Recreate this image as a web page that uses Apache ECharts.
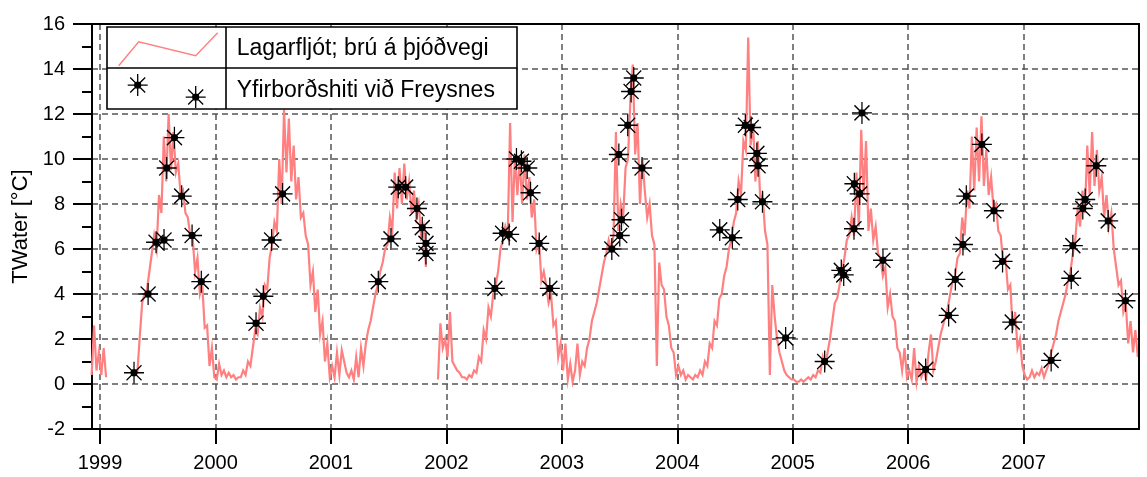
<!DOCTYPE html>
<html><head><meta charset="utf-8">
<script src="https://cdn.jsdelivr.net/npm/echarts@6/dist/echarts.min.js"></script>
<style>html,body{margin:0;padding:0;background:#fff}#c{width:1147px;height:477px}</style>
</head><body><div id="c"></div>
<script>
// ---------- data ----------
const yearTicks = [1999, 2000, 2001, 2002, 2003, 2004, 2005, 2006, 2007];
const seriesLagar = 'Lagarfljót; brú á þjóðvegi';
const seriesFrey = 'Yfirborðshiti við Freysnes';

// Lagarfljót water temperature, 48 readings per year (quarter-month steps), null = gap
const t1998tail = [0.4, 2.6, 0.6, 1.4]; // last four quarter-months of 1998
const t1999 = [0.4,1.6,0.3,null,null,null,null,null,null,null,null,null,null,null,null,0.5,2.1,3.6,4.0,4.2,5.0,5.8,6.6,6.0,8.4,7.6,11.0,9.0,12.0,9.5,11.2,9.4,9.8,8.4,8.6,7.6,7.4,6.6,6.5,5.0,5.6,4.0,4.4,2.5,2.6,0.8,1.6,0.3];
const t2000 = [0.2,0.9,0.4,0.6,0.3,0.5,0.3,0.4,0.2,0.3,0.3,0.6,0.4,1.0,0.8,1.6,2.4,2.2,3.4,3.0,4.4,4.2,5.6,6.2,7.2,6.8,10.0,8.0,12.2,9.4,11.8,9.0,10.6,8.2,9.2,7.4,7.6,6.6,6.2,4.4,5.0,3.2,4.2,2.2,2.8,1.0,1.8,0.3];
const t2001 = [0.8,0.3,1.4,0.4,1.5,1.0,0.5,0.3,0.6,0.2,1.2,0.3,1.6,0.8,1.8,2.4,2.8,3.4,4.0,4.4,5.0,5.4,6.0,6.2,7.4,6.8,9.4,7.8,9.6,8.0,9.8,8.2,9.0,7.6,8.6,7.4,8.0,6.6,7.0,5.2,null,null,null,null,0.2,2.7,1.6,2.0];
const t2002 = [1.2,3.2,1.0,0.8,0.6,0.5,0.3,0.3,0.2,0.4,0.3,0.6,0.5,1.2,1.0,2.4,2.0,3.4,3.0,4.0,4.4,5.0,6.0,6.4,7.0,6.6,11.6,7.2,10.2,8.4,10.0,8.0,10.2,8.2,9.2,7.4,8.2,6.0,6.4,4.6,5.0,4.4,3.6,4.0,2.6,2.8,1.2,1.8];
const t2003 = [0.6,1.8,0.2,0.9,0.1,0.6,1.8,0.4,1.0,0.8,1.6,2.0,2.8,3.2,3.6,4.2,4.8,5.4,5.8,6.4,6.0,6.6,11.2,6.8,8.0,7.4,9.6,10.0,12.6,14.2,10.2,11.6,8.0,10.0,8.6,7.4,8.0,6.6,6.2,0.8,5.4,4.4,4.2,3.0,2.6,1.6,1.4,0.4];
const t2004 = [0.8,0.4,0.6,0.2,0.4,0.3,0.2,0.4,0.3,0.6,0.4,1.0,0.8,1.8,1.6,2.8,2.6,3.8,4.0,4.8,5.2,6.0,6.4,7.2,7.6,9.0,8.4,10.8,10.4,15.4,10.6,11.6,9.0,10.8,8.2,8.4,6.8,6.2,0.4,4.4,3.0,2.0,1.4,1.0,0.6,0.4,0.3,0.2];
const t2005 = [0.2,0.1,0.1,0.2,0.1,0.2,0.3,0.2,0.4,0.3,0.6,0.5,1.2,0.8,1.4,2.0,2.8,3.6,3.8,4.4,5.0,5.6,6.4,6.6,7.4,6.6,9.4,7.0,11.3,8.4,10.8,6.8,7.8,6.4,7.0,5.8,5.6,4.8,5.2,3.4,4.0,3.0,2.8,1.6,1.4,0.6,1.6,0.3];
const t2006 = [0.6,0.2,1.6,0.1,0.8,0.3,0.6,0.2,1.4,2.2,0.6,1.0,1.6,2.2,2.6,3.0,3.4,4.0,4.6,4.8,5.6,5.8,7.4,6.6,8.6,7.8,11.0,8.6,11.4,9.0,11.9,8.8,10.4,8.4,9.2,7.8,8.0,6.8,6.6,5.4,5.6,4.2,4.4,2.4,3.2,1.6,2.0,0.8];
const t2007 = [0.4,0.2,0.3,0.6,0.3,0.5,0.4,0.7,0.3,0.6,0.9,1.4,1.8,2.2,2.8,3.2,3.6,4.0,4.6,5.0,5.8,6.4,7.8,7.0,8.6,7.6,10.6,8.4,11.2,8.8,10.4,8.6,9.2,7.4,8.4,7.0,7.6,6.0,5.2,4.4,4.6,3.2,3.6,1.8,2.8,1.4,2.4,1.2];

// Freysnes surface temperature (decimal year, value)
const freyT = [1999.294,1999.416,1999.485,1999.554,1999.577,1999.644,1999.707,1999.797,1999.877,
  2000.351,2000.414,2000.486,2000.581,
  2001.41,2001.52,2001.583,2001.647,2001.745,2001.791,2001.823,2001.823,
  2002.42,2002.487,2002.544,2002.607,2002.65,2002.70,2002.729,2002.804,2002.896,
  2003.433,2003.502,2003.517,2003.494,2003.571,2003.600,2003.623,2003.695,
  2004.368,2004.477,2004.524,2004.59,2004.64,2004.69,2004.70,2004.738,2004.939,
  2005.277,2005.421,2005.442,2005.531,2005.534,2005.58,2005.6,2005.782,
  2006.152,2006.351,2006.409,2006.475,2006.504,2006.639,2006.743,2006.818,2006.902,
  2007.239,2007.413,2007.427,2007.513,2007.534,2007.63,2007.733,2007.883];
const freyV = [0.5,4.0,6.3,6.4,9.6,10.95,8.35,6.6,4.55,
  2.7,3.9,6.4,8.45,
  4.55,6.45,8.75,8.75,7.8,6.95,6.25,5.8,
  4.25,6.7,6.65,10.0,9.9,9.6,8.5,6.25,4.25,
  6.0,6.6,7.3,10.2,11.5,13.0,13.6,9.6,
  6.85,6.5,8.2,11.5,11.4,10.25,9.7,8.1,2.05,
  1.0,5.05,4.85,6.9,8.9,8.45,12.05,5.5,
  0.65,3.05,4.65,6.2,8.35,10.65,7.7,5.45,2.75,
  1.05,4.7,6.15,7.8,8.2,9.7,7.25,3.7];

// ---------- build series data ----------
const PER_YEAR = 48;
function slot(year, i) { return year + (i + 0.5) / PER_YEAR; }
const lagar = [];
t1998tail.forEach((v, k) => lagar.push([slot(1998, PER_YEAR - t1998tail.length + k), v]));
[[1999,t1999],[2000,t2000],[2001,t2001],[2002,t2002],[2003,t2003],[2004,t2004],[2005,t2005],[2006,t2006],[2007,t2007]]
  .forEach(([y, arr]) => arr.forEach((v, i) => lagar.push([slot(y, i), v === null ? '-' : v])));
const frey = freyT.map((t, i) => [t, freyV[i]]);

// ---------- styling helpers ----------
function star(cx, cy) {
  const a = 11, h = 10, d = 7.5, r = 3;
  return 'M' + cx + ',' + (cy - a) + 'L' + cx + ',' + (cy + a) +
         'M' + (cx - h) + ',' + cy + 'L' + (cx + h) + ',' + cy +
         'M' + (cx - d) + ',' + (cy - d) + 'L' + (cx + d) + ',' + (cy + d) +
         'M' + (cx - d) + ',' + (cy + d) + 'L' + (cx + d) + ',' + (cy - d) +
         'M' + (cx + r) + ',' + cy + 'A' + r + ',' + r + ' 0 1,1 ' + (cx - r) + ',' + cy +
         'A' + r + ',' + r + ' 0 1,1 ' + (cx + r) + ',' + cy + 'Z';
}
const FONT = 'Liberation Sans';
const PINK = '#ff8080';
const GRID_LINE = { show: true, lineStyle: { color: '#555', type: [6, 4], width: 1.5 } };
const BLACK2 = { color: '#000', width: 2 };

const chart = echarts.init(document.getElementById('c'));
chart.setOption({
  animation: false,
  backgroundColor: '#fff',
  grid: { left: 92, right: 8, top: 24, bottom: 48, containLabel: false, outerBoundsMode: 'none' },
  legend: {
    orient: 'vertical', left: 118, top: 31, padding: 0,
    itemWidth: 113, itemHeight: 34, itemGap: 7, selectedMode: false,
    textStyle: { fontFamily: FONT, fontSize: 23, color: '#000' },
    data: [
      { name: seriesLagar, icon: 'path://M0,0M113,34M0,34L20,10L77,24L99,1',
        itemStyle: { color: 'rgba(0,0,0,0)', borderColor: PINK, borderWidth: 1.4 } },
      { name: seriesFrey, icon: 'path://M0,0M113,34' + star(19, 11) + star(77, 23),
        itemStyle: { color: '#000', borderColor: '#000', borderWidth: 1.3 } }
    ]
  },
  graphic: { elements: [
    { type: 'rect', z: 3, silent: true, shape: { x: 107, y: 27, width: 410, height: 82 },
      style: { fill: '#fff', stroke: '#000', lineWidth: 1.6 } },
    { type: 'line', z: 3, silent: true, shape: { x1: 107, y1: 68, x2: 517, y2: 68 },
      style: { stroke: '#000', lineWidth: 1.6 } },
    { type: 'line', z: 3, silent: true, shape: { x1: 226, y1: 27, x2: 226, y2: 109 },
      style: { stroke: '#000', lineWidth: 1.6 } }
  ] },
  xAxis: [
    { type: 'value', min: 1998.93, max: 2008, position: 'bottom', z: 1,
      axisLine: { show: true, onZero: false, lineStyle: BLACK2 },
      axisTick: { show: true, customValues: yearTicks, length: 15, lineStyle: BLACK2 },
      axisLabel: { customValues: yearTicks, formatter: v => String(Math.round(v)), margin: 24,
                   fontFamily: FONT, fontSize: 20, color: '#000' },
      splitLine: GRID_LINE },
    { type: 'value', min: 1998.93, max: 2008, position: 'top', z: 3,
      axisLine: { show: true, onZero: false, lineStyle: BLACK2 },
      axisTick: { show: false }, axisLabel: { show: false }, splitLine: { show: false } }
  ],
  yAxis: [
    { type: 'value', min: -2, max: 16, interval: 2, z: 0,
      name: 'TWater [°C]', nameLocation: 'middle', nameGap: 57,
      nameTextStyle: { fontFamily: FONT, fontSize: 22, color: '#000' },
      axisLine: { show: true, onZero: false, lineStyle: BLACK2 },
      axisTick: { show: true, length: 19, lineStyle: BLACK2 },
      minorTick: { show: true, splitNumber: 2, length: 10, lineStyle: BLACK2 },
      axisLabel: { margin: 27, fontFamily: FONT, fontSize: 20, color: '#000' },
      splitLine: GRID_LINE },
    { type: 'value', min: -2, max: 16, interval: 2, position: 'right', z: 3,
      axisLine: { show: true, onZero: false, lineStyle: BLACK2 },
      axisTick: { show: false }, axisLabel: { show: false }, splitLine: { show: false } }
  ],
  series: [
    { name: seriesLagar, type: 'line', data: lagar, showSymbol: false, symbol: 'none',
      connectNulls: false,
      lineStyle: { color: PINK, width: 2.2, join: 'miter' }, itemStyle: { color: PINK },
      emphasis: { disabled: true }, z: 2 },
    { name: seriesFrey, type: 'scatter', data: frey,
      symbol: 'path://' + star(11, 11), symbolSize: [20, 22],
      itemStyle: { color: '#000', borderColor: '#000', borderWidth: 1.3, opacity: 1 },
      emphasis: { disabled: true }, z: 2 }
  ]
});
</script>
</body></html>
